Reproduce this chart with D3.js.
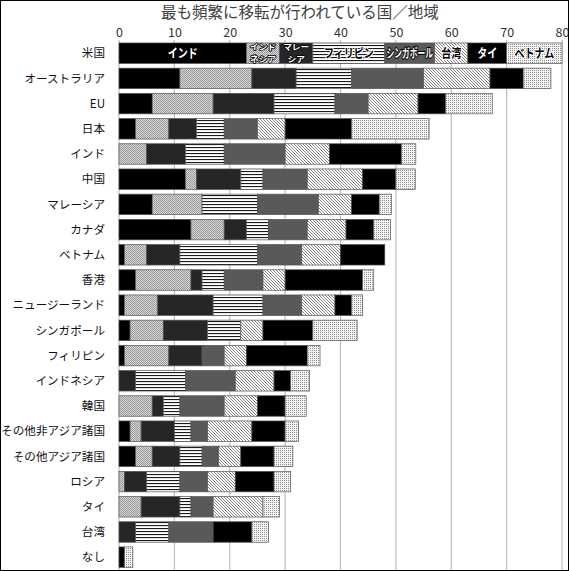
<!DOCTYPE html>
<html>
<head>
<meta charset="utf-8">
<script src="https://cdn.jsdelivr.net/npm/d3@7"></script>
<style>
  body { margin: 0; background: #fff; }
  svg { display: block; font-family: "Noto Sans CJK JP", "Noto Sans", sans-serif; }
</style>
</head>
<body>
<svg id="chart" width="569" height="571"></svg>
<script>
// categories (rows, top to bottom)
const categories = ["米国", "オーストラリア", "EU", "日本", "インド", "中国", "マレーシア", "カナダ",
  "ベトナム", "香港", "ニュージーランド", "シンガポール", "フィリピン", "インドネシア", "韓国",
  "その他非アジア諸国", "その他アジア諸国", "ロシア", "タイ", "台湾", "なし"];

// destination series, one value per row
const india       = [23, 11, 6, 3, 0, 12, 6, 13, 1, 3, 1, 2, 1, 0, 0, 2, 3, 0, 0, 0, 1];
const indonesia   = [6, 13, 11, 6, 5, 2, 9, 6, 4, 10, 6, 6, 8, 0, 6, 2, 3, 1, 4, 0, 0];
const malaysia    = [6, 8, 11, 5, 7, 8, 0, 4, 6, 2, 10, 8, 6, 3, 2, 6, 5, 4, 7, 3, 0];
const philippines = [13, 10, 11, 5, 7, 4, 10, 4, 14, 4, 9, 6, 0, 9, 3, 3, 4, 6, 2, 6, 0];
const singapore   = [9, 13, 6, 6, 11, 8, 11, 7, 8, 7, 7, 0, 4, 9, 8, 3, 3, 5, 4, 8, 0];
const taiwan      = [6, 12, 9, 5, 8, 10, 6, 7, 7, 4, 6, 4, 4, 7, 6, 8, 4, 5, 9, 0, 0];
const thailand    = [7, 6, 5, 12, 13, 6, 5, 5, 8, 14, 3, 9, 11, 3, 5, 6, 6, 7, 0, 7, 0];
const vietnam     = [10, 5, 8.4, 14, 2.6, 3.5, 2.2, 3, 0, 2, 2, 8, 2.3, 3.4, 3.8, 2.4, 3.4, 3, 3, 3, 1.5];

const seriesKeys = ["インド", "インドネシア", "マレーシア", "フィリピン", "シンガポール", "台湾", "タイ", "ベトナム"];
const seriesData = [india, indonesia, malaysia, philippines, singapore, taiwan, thailand, vietnam];
// legend text written inside the first bar (line breaks as in the original)
const legendLines = [["インド"], ["インド", "ネシア"], ["マレー", "シア"], ["フィリピン"],
  ["シンガポール"], ["台湾"], ["タイ"], ["ベトナム"]];

const xTicks = [0, 10, 20, 30, 40, 50, 60, 70, 80];
const title = "最も頻繁に移転が行われている国／地域";

const svg = d3.select("#chart");
const W = 569, H = 571;

// patterns
const defs = svg.append("defs");
function pat(id, w, h, bg) {
  const p = defs.append("pattern").attr("id", id).attr("patternUnits", "userSpaceOnUse")
    .attr("width", w).attr("height", h);
  p.append("rect").attr("width", w).attr("height", h).attr("fill", bg);
  return p;
}
let p = pat("pIdn", 2, 2, "#d6d6d6");
p.append("rect").attr("x", 0).attr("y", 0).attr("width", 1).attr("height", 1).attr("fill", "#969696");
p.append("rect").attr("x", 1).attr("y", 1).attr("width", 1).attr("height", 1).attr("fill", "#9e9e9e");
p = pat("pPhl", 3, 3, "#fff");
p.append("rect").attr("x", 0).attr("y", 0).attr("width", 3).attr("height", 1.1).attr("fill", "#1a1a1a");
p = pat("pTwn", 3, 3, "#fff");
p.append("path").attr("d", "M0,0L3,3M-1,2L1,4M2,-1L4,1").attr("stroke", "#6e6e6e").attr("stroke-width", 0.85);
p = pat("pVnm", 2, 2, "#f4f4f4");
p.append("rect").attr("x", 0).attr("y", 0).attr("width", 1).attr("height", 1).attr("fill", "#909090");

const fills = ["#000", "url(#pIdn)", "#262626", "url(#pPhl)", "#595959", "url(#pTwn)", "#000", "url(#pVnm)"];
const labelColor = ["#fff", "#fff", "#fff", "#000", "#fff", "#000", "#fff", "#000"];

// scales
const x = d3.scaleLinear().domain([0, 80]).range([119, 562]);
const y = d3.scaleBand().domain(categories).range([40.6, 569.8]).paddingInner(0.187).paddingOuter(0.0935);

// title
svg.append("text").attr("x", 300).attr("y", 18).attr("text-anchor", "middle")
  .attr("font-size", 15.5).attr("fill", "#404040").text(title);

// gridlines
svg.append("g").attr("class", "grid")
  .selectAll("line").data(xTicks).enter().append("line")
  .attr("x1", d => x(d)).attr("x2", d => x(d))
  .attr("y1", 40).attr("y2", 570)
  .attr("stroke", "#bdbdbd").attr("stroke-width", 1.2);

// top axis labels
const xAxis = svg.append("g").attr("transform", "translate(0,37)")
  .call(d3.axisTop(x).tickValues(xTicks).tickSize(0).tickPadding(0));
xAxis.select(".domain").remove();
xAxis.selectAll("text").attr("font-size", 12.5).attr("fill", "#333")
  .attr("font-family", "'Noto Sans CJK JP', sans-serif");

// row labels
svg.append("g").selectAll("text").data(categories).enter().append("text")
  .attr("x", 105).attr("y", d => y(d) + y.bandwidth() / 2)
  .attr("dy", "0.36em").attr("text-anchor", "end")
  .attr("font-size", 11.6).attr("fill", "#111").text(d => d);

// stacked bars
const rows = categories.map((c, i) => {
  const o = { cat: c };
  seriesKeys.forEach((k, j) => { o[k] = seriesData[j][i]; });
  return o;
});
const stacked = d3.stack().keys(seriesKeys)(rows);

svg.append("g").selectAll("g").data(stacked).enter().append("g")
  .attr("fill", (d, i) => fills[i])
  .selectAll("rect").data(d => d.filter(s => s[1] - s[0] > 0)).enter().append("rect")
  .attr("x", d => x(d[0])).attr("width", d => x(d[1]) - x(d[0]))
  .attr("y", d => y(d.data.cat)).attr("height", y.bandwidth())
  .attr("stroke", "#555").attr("stroke-width", 0.7);

// legend labels inside the first bar (squeezed horizontally like the original)
const first = categories[0];
const lg = svg.append("g").attr("font-weight", "bold");
stacked.forEach((s, i) => {
  const seg = s[0];
  const x0 = x(seg[0]), x1 = x(seg[1]);
  const cx = (x0 + x1) / 2, cy = y(first) + y.bandwidth() / 2;
  const lines = legendLines[i];
  const two = lines.length > 1;
  const fs = two ? 7.9 : 12.5;
  const t = lg.append("text")
    .attr("text-anchor", "middle")
    .attr("font-size", fs).attr("fill", labelColor[i])
    .attr("stroke", labelColor[i] === "#fff" ? "#000" : "#fff")
    .attr("stroke-width", two ? 1.6 : 2.2).attr("paint-order", "stroke")
    .attr("stroke-linejoin", "round");
  lines.forEach((ln, k) => {
    t.append("tspan").attr("x", 0)
      .attr("y", (k - (lines.length - 1) / 2) * 11.5)
      .attr("dy", "0.36em").text(ln);
  });
  const nat = t.node().getBBox().width;
  const sx = Math.min(two ? 1.1 : 0.8, (x1 - x0 - 3) / nat);
  t.attr("transform", `translate(${cx},${cy}) scale(${sx},1)`);
});

// outer frame
svg.append("rect").attr("x", 0.5).attr("y", 0.5).attr("width", W - 1).attr("height", H - 1)
  .attr("fill", "none").attr("stroke", "#000").attr("stroke-width", 1);
</script>
</body>
</html>
